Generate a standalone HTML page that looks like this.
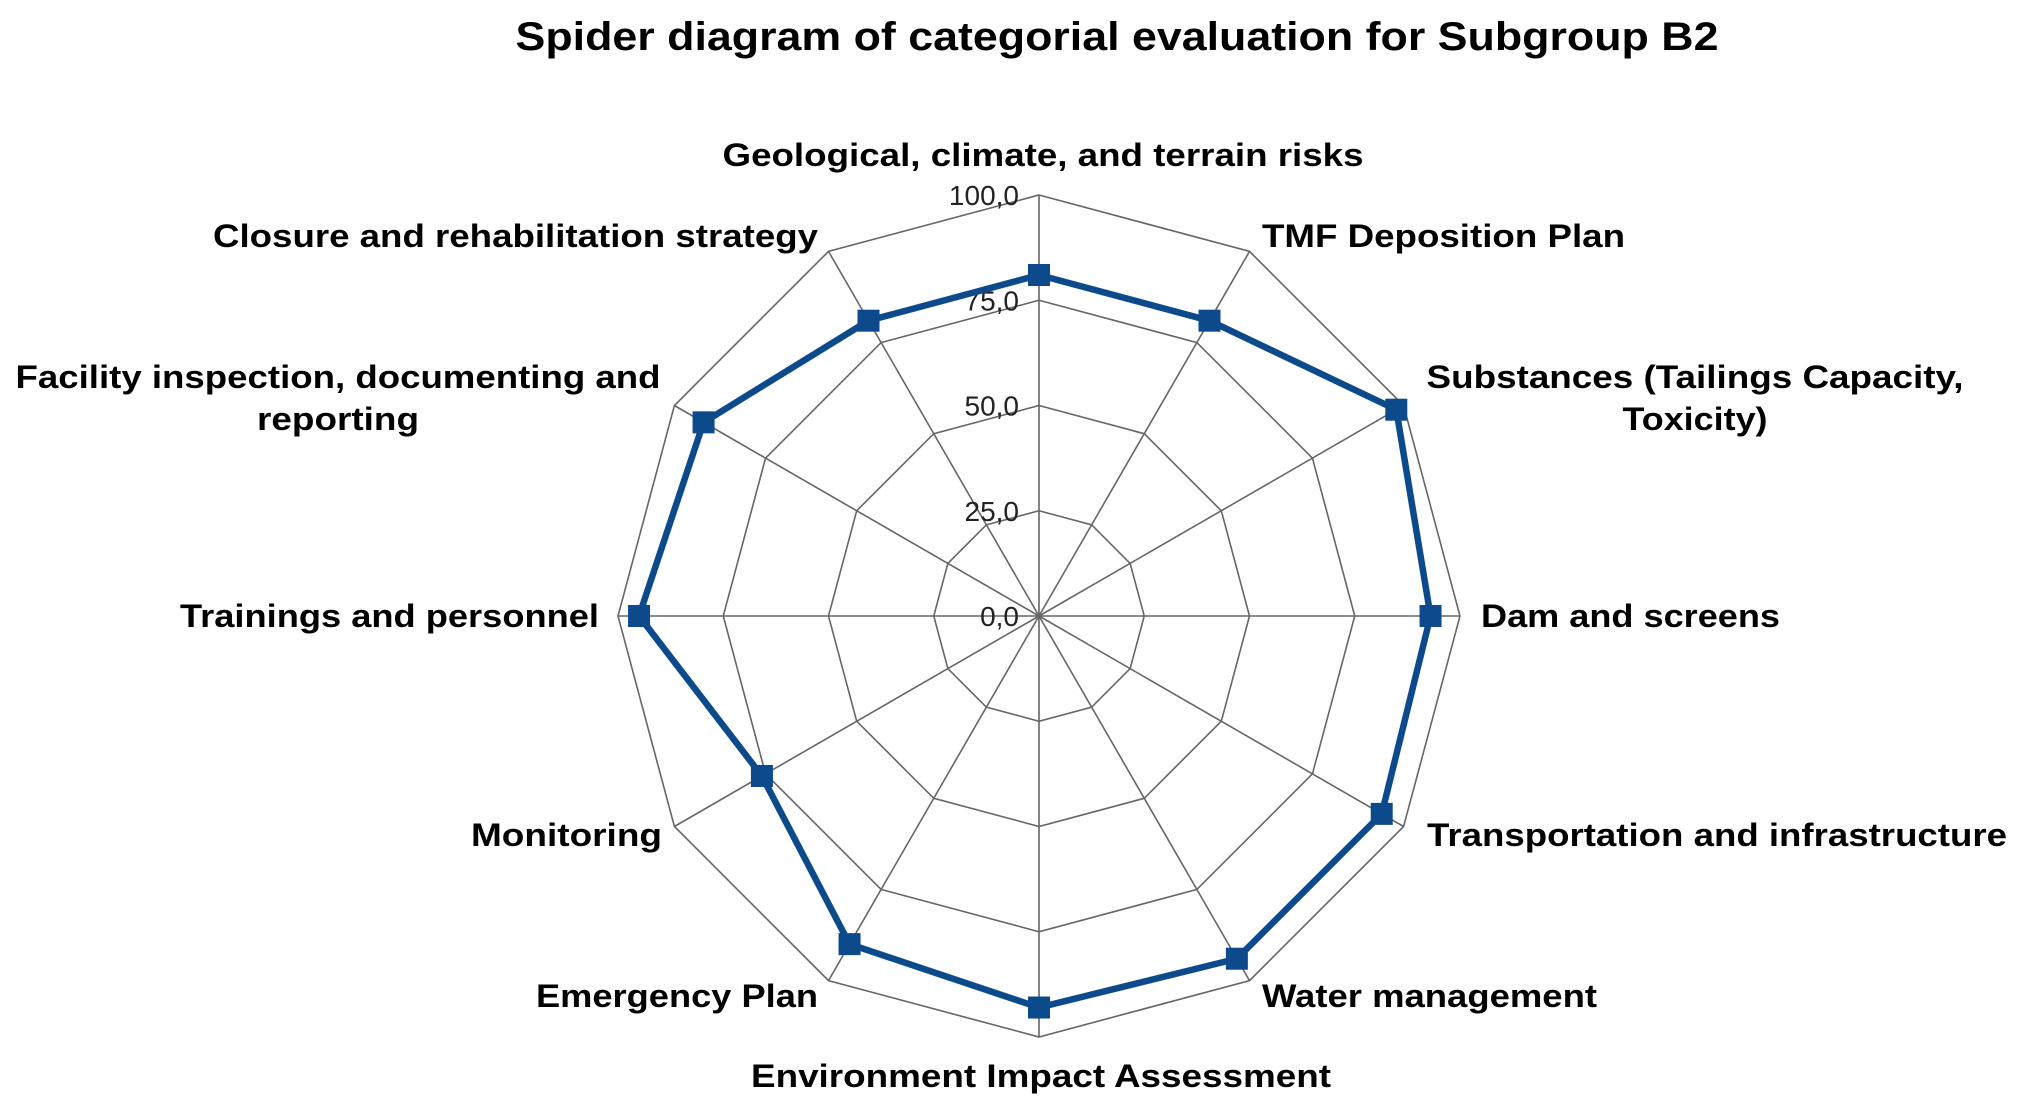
<!DOCTYPE html>
<html><head><meta charset="utf-8"><style>
html,body{margin:0;padding:0;background:#fff;}
svg{display:block;}
text{font-family:"Liberation Sans",Arial,sans-serif;fill:#000;}
.lab{font-weight:bold;font-size:32px;}
.tick{font-size:28px;fill:#222;}
</style></head><body>
<svg id="chart" width="2020" height="1101" viewBox="0 0 2020 1101" xmlns="http://www.w3.org/2000/svg">
<text x="1117" y="36" dy=".35em" text-anchor="middle" font-size="40" font-weight="bold" textLength="1203" lengthAdjust="spacingAndGlyphs">Spider diagram of categorial evaluation for  Subgroup B2</text>
<g id="grid"></g>
<g id="ticks"></g>
<g id="series"></g>
<g id="labels"></g>
</svg>
<script>
const categories = ["Geological, climate, and terrain risks","TMF Deposition Plan","Substances (Tailings Capacity, Toxicity)","Dam and screens","Transportation and infrastructure","Water management","Environment Impact Assessment","Emergency Plan","Monitoring","Trainings and personnel","Facility inspection, documenting and reporting","Closure and rehabilitation strategy"];
const values = [81, 81, 98, 93, 94, 94, 93, 90, 76, 95, 92, 81];
const tickValues = [0, 25, 50, 75, 100];
const tickLabels = ["0,0","25,0","50,0","75,0","100,0"];

const NS="http://www.w3.org/2000/svg";
const cx=1039, cy=616, R=421, maxV=100;
function rScale(v){return v/maxV*R;}
function pt(i,v){const a=-Math.PI/2+i*2*Math.PI/categories.length;return [cx+rScale(v)*Math.cos(a), cy+rScale(v)*Math.sin(a)];}
function mk(tag,attrs,parent){const e=document.createElementNS(NS,tag);for(const k in attrs)e.setAttribute(k,attrs[k]);parent.appendChild(e);return e;}

const grid=document.getElementById('grid');
tickValues.forEach((tv,j)=>{ if(tv===0) return;
  const p=categories.map((c,i)=>pt(i,tv).join(',')).join(' ');
  const e=mk('polygon',{points:p,fill:'none',stroke:'#666','stroke-width':1.6},grid);
  
  
});
categories.forEach((c,i)=>{const [x,y]=pt(i,maxV);
  const e=mk('line',{x1:cx,y1:cy,x2:x,y2:y,stroke:'#666','stroke-width':1.6},grid);
  
  
});
const ticks=document.getElementById('ticks');
tickValues.forEach((tv,j)=>{
  const e=mk('text',{x:cx-20,y:cy-rScale(tv)+10,'text-anchor':'end',class:'tick'},ticks);
  e.textContent=tickLabels[j];
  
  
});
const series=document.getElementById('series');
const pts=values.map((v,i)=>pt(i,v));
const line=mk('polygon',{points:pts.map(p=>p.join(',')).join(' '),fill:'none',stroke:'#0d4a8c','stroke-width':6.5,'stroke-linejoin':'miter'},series);


pts.forEach((p,i)=>{
  const e=mk('rect',{x:p[0]-11,y:p[1]-11,width:22,height:22,fill:'#0d4a8c'},series);
  
  
});
const labelLines=[
 [[1043,155,'middle',641,categories[0]]],
 [[1262,236,'start',363,categories[1]]],
 [[1695,377,'middle',537,'Substances (Tailings Capacity,'],[1695,419,'middle',145,'Toxicity)']],
 [[1481,616,'start',299,categories[3]]],
 [[1427,835,'start',580,categories[4]]],
 [[1262,996,'start',335,categories[5]]],
 [[1041,1076,'middle',580,categories[6]]],
 [[818,996,'end',282,categories[7]]],
 [[662,835,'end',191,categories[8]]],
 [[599,616,'end',419,categories[9]]],
 [[338,377,'middle',645,'Facility inspection, documenting and'],[338,419,'middle',162,'reporting']],
 [[818,236,'end',605,categories[11]]]
];
const labels=document.getElementById('labels');
labelLines.forEach((lines,i)=>{
  lines.forEach((l,k)=>{
    const e=mk('text',{x:l[0],y:l[1],dy:'.35em','text-anchor':l[2],class:'lab',textLength:l[3],lengthAdjust:'spacingAndGlyphs'},labels);
    e.textContent=l[4];
    
    
  });
});
</script>
</body></html>
